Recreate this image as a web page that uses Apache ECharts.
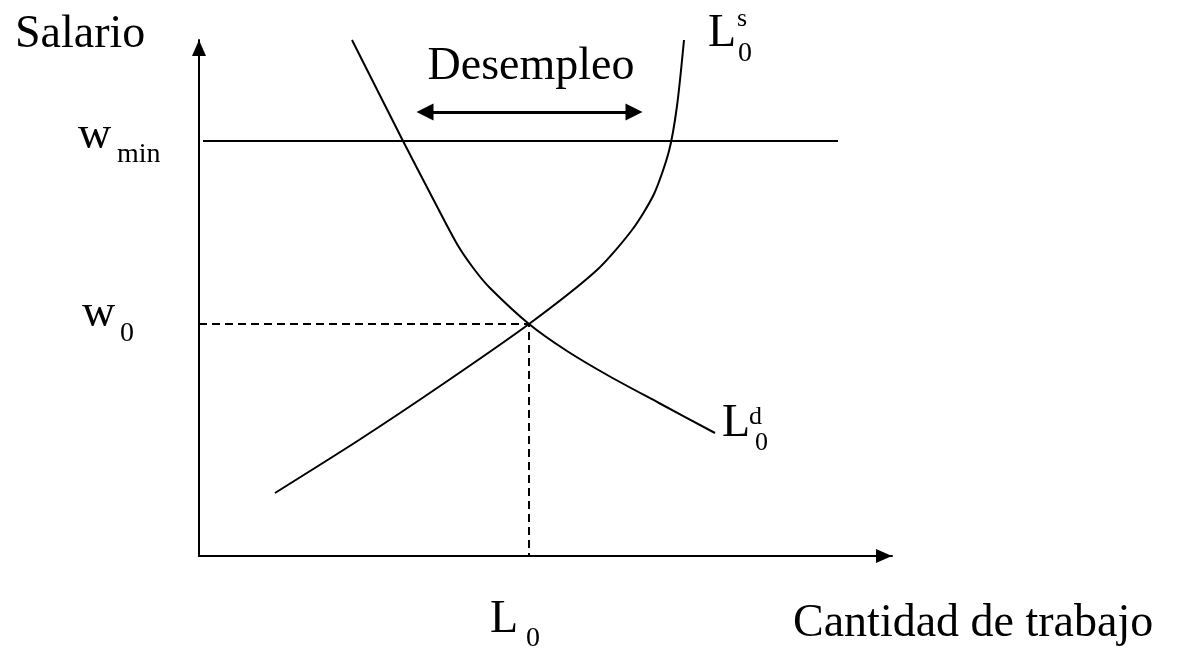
<!DOCTYPE html>
<html><head><meta charset="utf-8">
<script src="https://cdn.jsdelivr.net/npm/echarts@6/dist/echarts.min.js"></script>
<style>html,body{margin:0;padding:0;background:#fff}#c{width:1185px;height:649px}</style>
</head><body><div id="c"></div>
<script>
// Values (x: labour quantity, y: wage; arbitrary units)
const supplyCurve = [[76,63],[160,116],[244,172],[330,232],[398,286],[433,326],[455,362],[470,405],[478,450],[485,516]];
const demandCurve = [[153,516],[204,415],[231,363],[258,312],[275,287],[291,268],[330,232],[368,205],[410,180],[460,153],[516,123]];
const minWageLine = [[4,415],[639,415]];
const equilibriumGuide = [[0,232],[330,232],[330,0]];
const unemploymentArrow = [[226,444],[435,444]];
const xRange = [0, 693];
const yRange = [0, 516];

const serif = '"Liberation Serif", "DejaVu Serif", serif';
function txt(s, x, y, size, align) {
  return { type: 'text', x: x, y: y, silent: true,
    style: { text: s, font: size + 'px ' + serif, fill: '#000', align: align || 'left', verticalAlign: 'middle' } };
}

const chart = echarts.init(document.getElementById('c'), null, { renderer: 'canvas' });
chart.setOption({
  animation: false,
  backgroundColor: '#fff',
  grid: { left: 199, top: 40, right: 293, bottom: 93 },
  xAxis: { type: 'value', min: xRange[0], max: xRange[1],
    axisLine: { show: true, lineStyle: { color: '#000', width: 2 }, symbol: ['none', 'triangle'], symbolSize: [14, 16], symbolOffset: [0, -8] },
    axisTick: { show: false }, axisLabel: { show: false }, splitLine: { show: false } },
  yAxis: { type: 'value', min: yRange[0], max: yRange[1],
    axisLine: { show: true, lineStyle: { color: '#000', width: 2 }, symbol: ['none', 'triangle'], symbolSize: [14, 16], symbolOffset: [0, -8] },
    axisTick: { show: false }, axisLabel: { show: false }, splitLine: { show: false } },
  series: [
    { name: 'Ls', type: 'line', data: supplyCurve, smooth: 0.25, showSymbol: false, clip: false,
      lineStyle: { color: '#000', width: 2 } },
    { name: 'Ld', type: 'line', data: demandCurve, smooth: 0.25, showSymbol: false, clip: false,
      lineStyle: { color: '#000', width: 2 } },
    { name: 'wmin', type: 'line', data: minWageLine, showSymbol: false,
      lineStyle: { color: '#000', width: 2 } },
    { name: 'eq', type: 'line', data: equilibriumGuide, showSymbol: false,
      lineStyle: { color: '#000', width: 2, type: [8, 5] } },
    { name: 'desempleo', type: 'lines', coordinateSystem: 'cartesian2d',
      symbol: ['triangle', 'triangle'], symbolSize: 17,
      lineStyle: { color: '#000', width: 3, opacity: 1 },
      data: [{ coords: unemploymentArrow }] }
  ],
  graphic: [
    txt('Salario', 15, 35, 46),
    txt('Desempleo', 531, 67, 46, 'center'),
    txt('w', 78, 136, 46), txt('min', 117, 155, 28),
    txt('w', 82, 314, 46), txt('0', 120, 334, 28),
    txt('L', 708, 34, 46), txt('s', 737, 19, 26), txt('0', 738, 54, 28),
    txt('L', 722, 424, 46), txt('d', 749, 417, 26), txt('0', 755, 443, 26),
    txt('L', 490, 620, 46), txt('0', 526, 639, 28),
    txt('Cantidad de trabajo', 793, 624, 46)
  ]
});
</script>
</body></html>
